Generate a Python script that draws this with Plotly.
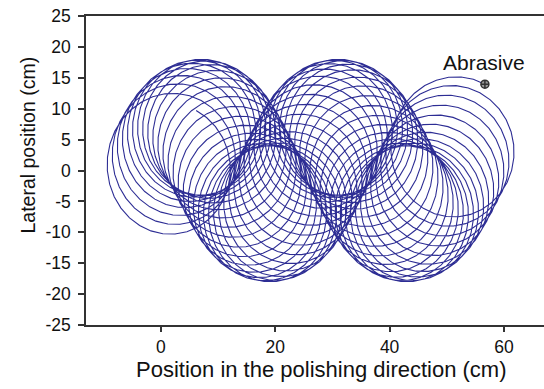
import numpy as np
import plotly.graph_objects as go

# ---- values ----
disk_radius_cm = [11.0]              # radius of the abrasive path around the head centre
head_x_start_end = [1.0, 51.5]       # head centre position along polishing direction (cm)
lateral_amplitude_cm = [7.0]         # lateral oscillation of the head centre (cm)
lateral_period_cm = [24.0]           # x travel per lateral oscillation (cm)
lateral_peak_x_cm = [7.0]            # x where the head centre is at its upper lateral limit
revolutions = [57]                   # disk revolutions over the travel
end_angle_deg = [62.0]               # angular position of the abrasive at the end
points_per_rev = [32]
label_pos = [56.5, 17.4]
x_tick_vals = [0, 20, 40, 60]
x_tick_text = ["0", "20", "40", "60"]
y_tick_vals = [-25, -20, -15, -10, -5, 0, 5, 10, 15, 20, 25]
y_tick_text = ["-25", "-20", "-15", "-10", "-5", "0", "5", "10", "15", "20", "25"]
x_title = "Position in the polishing direction (cm)"
y_title = "Lateral position (cm)"

# ---- trajectory of the abrasive (kinematic model with the parameters above) ----
R = disk_radius_cm[0]
N = revolutions[0]
t = np.linspace(0, N, N * points_per_rev[0] + 1)
xc = head_x_start_end[0] + (head_x_start_end[1] - head_x_start_end[0]) * t / N
yc = lateral_amplitude_cm[0] * np.cos(2 * np.pi * (xc - lateral_peak_x_cm[0]) / lateral_period_cm[0])
theta = np.deg2rad(end_angle_deg[0]) + 2 * np.pi * (N - t)   # clockwise rotation
x = xc + R * np.cos(theta)
y = yc + R * np.sin(theta)

fig = go.Figure()
fig.add_trace(go.Scatter(x=x, y=y, mode="lines",
                         line=dict(color="#2d2d94", width=1.1),
                         hoverinfo="skip", showlegend=False))
fig.add_trace(go.Scatter(x=x[-1:], y=y[-1:], mode="markers",
                         marker=dict(symbol="circle-cross", size=8, color="#999999",
                                     line=dict(color="#333333", width=1.5)),
                         showlegend=False))
fig.add_annotation(x=label_pos[0], y=label_pos[1], text="Abrasive", showarrow=False,
                   font=dict(family="Liberation Sans, Arial", size=21, color="#111111"))
fig.add_annotation(x=0.514, y=-0.1445, xref="paper", yref="paper", text=x_title,
                   showarrow=False, xanchor="center", yanchor="middle", borderpad=0,
                   font=dict(family="Liberation Sans, Arial", size=22, color="#111111"))
fig.add_annotation(x=-0.1277, y=0.5825, xref="paper", yref="paper", text=y_title,
                   showarrow=False, xanchor="center", yanchor="middle", textangle=-90,
                   font=dict(family="Liberation Sans, Arial", size=19.5, color="#111111"))

tick_font = dict(family="Liberation Sans, Arial", size=17.5, color="#111111")
fig.update_layout(
    template="none",
    width=544, height=389,
    margin=dict(l=86, r=0, t=16, b=64),
    plot_bgcolor="white", paper_bgcolor="white",
    xaxis=dict(range=[-13.1, 67.0], tickvals=x_tick_vals, ticktext=x_tick_text,
               automargin=False, ticklabelstandoff=0,
               showline=True, linecolor="#333333", linewidth=1.5, mirror=True,
               ticks="outside", ticklen=5, tickcolor="#333333", tickwidth=1.5,
               showgrid=False, zeroline=False, tickfont=tick_font),
    yaxis=dict(range=[-25, 25], tickvals=y_tick_vals, ticktext=y_tick_text,
               automargin=False, ticklabelstandoff=4,
               showline=True, linecolor="#333333", linewidth=1.5,
               ticks="outside", ticklen=6, tickcolor="#333333", tickwidth=1.5,
               showgrid=False, zeroline=False, tickfont=tick_font),
)
fig.write_html("out.html", config={"displayModeBar": False},
               post_script="document.body.style.margin='0';document.body.style.overflow='hidden';")
